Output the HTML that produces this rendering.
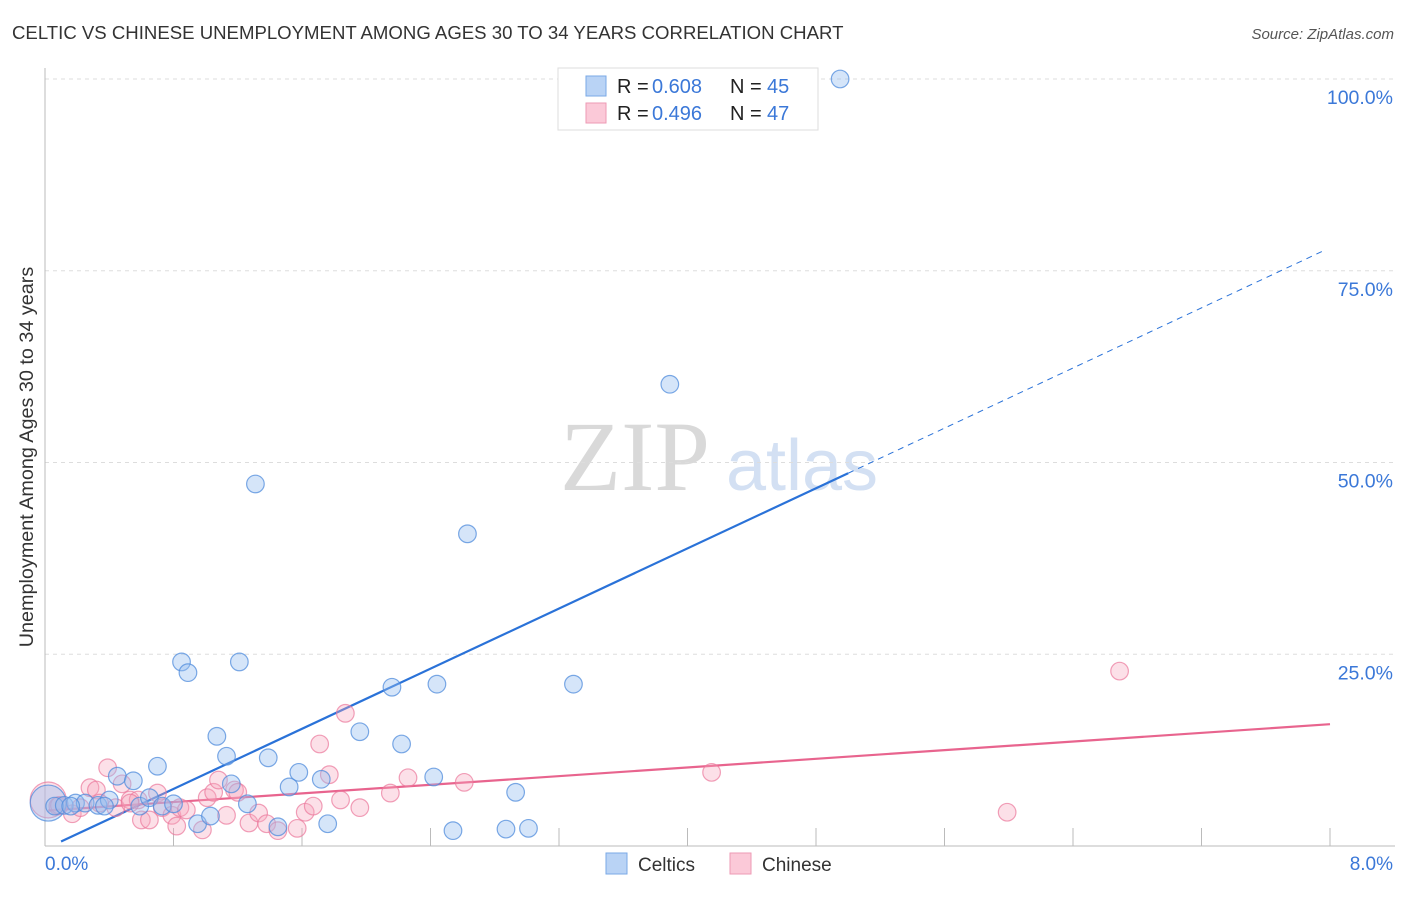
<!DOCTYPE html>
<html><head><meta charset="utf-8"><style>
body{margin:0;background:#fff;font-family:"Liberation Sans",sans-serif}
svg text{font-family:"Liberation Sans",sans-serif}
</style></head><body>
<svg id="chart" width="1406" height="892" viewBox="0 0 1406 892" xmlns="http://www.w3.org/2000/svg">
<text x="12" y="39" font-size="18.6" fill="#333">CELTIC VS CHINESE UNEMPLOYMENT AMONG AGES 30 TO 34 YEARS CORRELATION CHART</text>
<text x="1394" y="39" font-size="15" fill="#555" font-style="italic" text-anchor="end">Source: ZipAtlas.com</text>
<text x="33" y="457" font-size="19.8" fill="#333" text-anchor="middle" transform="rotate(-90 33 457)">Unemployment Among Ages 30 to 34 years</text>
<g>
<text x="635" y="490" font-size="100" fill="#d9d9d9" style="font-family:'Liberation Serif',serif" text-anchor="middle">ZIP</text>
<text x="802" y="490" font-size="72" fill="#d3e0f3" text-anchor="middle">atlas</text>
</g>
<g id="grid"></g><g id="axes"></g><g id="lines"></g><g id="pts"></g>
<g>
<rect x="558" y="68" width="260" height="62" fill="#fff" stroke="#ddd"/>
<rect x="586" y="76" width="20" height="20" fill="#b9d3f5" stroke="#7aa8e6"/>
<text x="617" y="93" font-size="20" fill="#222">R =</text>
<text x="652" y="93" font-size="20" fill="#3b78d8">0.608</text>
<text x="730" y="93" font-size="20" fill="#222">N =</text>
<text x="767" y="93" font-size="20" fill="#3b78d8">45</text>
<rect x="586" y="103" width="20" height="20" fill="#fbc9d8" stroke="#ee9ab4"/>
<text x="617" y="120" font-size="20" fill="#222">R =</text>
<text x="652" y="120" font-size="20" fill="#3b78d8">0.496</text>
<text x="730" y="120" font-size="20" fill="#222">N =</text>
<text x="767" y="120" font-size="20" fill="#3b78d8">47</text>
</g>
<g>
<rect x="606" y="853" width="21" height="21" fill="#b9d3f5" stroke="#7aa8e6"/>
<text x="638" y="871" font-size="19" fill="#333">Celtics</text>
<rect x="730" y="853" width="21" height="21" fill="#fbc9d8" stroke="#ee9ab4"/>
<text x="762" y="871" font-size="19" fill="#333">Chinese</text>
</g>
</svg>
<script>
const yTicks=[25,50,75,100];
const yTickLabels=["25.0%","50.0%","75.0%","100.0%"];
const xTicks=[0.8,1.6,2.4,3.2,4.0,4.8,5.6,6.4,7.2,8.0];
const celticsX=[0.02,0.06,0.12,0.19,0.25,0.33,0.40,0.45,0.55,0.59,0.65,0.70,0.73,0.80,0.85,0.89,0.95,1.03,1.07,1.13,1.16,1.21,1.26,1.31,1.39,1.45,1.52,1.58,1.72,1.76,1.96,2.16,2.22,2.42,2.44,2.54,2.63,2.87,2.93,3.01,3.29,3.89,4.95,0.16,0.37];
const celticsY=[5.6,5.2,5.3,5.6,5.6,5.3,6.0,9.1,8.5,5.2,6.3,10.4,5.2,5.5,24.0,22.6,2.9,3.9,14.3,11.7,8.1,24.0,5.5,47.2,11.5,2.5,7.7,9.6,8.7,2.9,14.9,20.7,13.3,9.0,21.1,2.0,40.7,2.2,7.0,2.3,21.1,60.2,100,5.2,5.2];
const chineseX=[0.02,0.08,0.17,0.22,0.28,0.32,0.39,0.44,0.48,0.53,0.58,0.60,0.65,0.70,0.73,0.79,0.82,0.84,0.88,0.98,1.01,1.05,1.08,1.13,1.18,1.20,1.27,1.33,1.38,1.45,1.57,1.62,1.67,1.71,1.77,1.84,1.87,1.96,2.15,2.26,2.61,4.15,5.99,6.69,0.09,0.34,0.53];
const chineseY=[6.0,5.2,4.2,5.0,7.6,7.3,10.2,5.0,8.1,6.0,6.0,3.4,3.4,6.9,5.0,4.0,2.6,5.0,4.7,2.1,6.3,7.0,8.6,4.0,7.3,7.0,3.0,4.3,2.9,2.0,2.3,4.4,5.2,13.3,9.3,6.0,17.3,5.0,6.9,8.9,8.3,9.6,4.4,22.8,5.3,5.6,5.6];
const celticsFit=[-0.4,9.8];
const chineseFit=[4.6,1.41];
const NS="http://www.w3.org/2000/svg";
const sx=v=>45+v/8*1285, sy=v=>846-v/100*767;
function mk(tag,attrs,parent){const e=document.createElementNS(NS,tag);for(const k in attrs)e.setAttribute(k,attrs[k]);document.getElementById(parent).appendChild(e);return e;}
yTicks.forEach((t,i)=>{
 const l=mk('line',{x1:45,x2:1395,y1:sy(t),y2:sy(t),stroke:'#ddd','stroke-dasharray':'4,4'},'grid');
 
 
 const tx=mk('text',{x:1393,y:sy(t)+25,'font-size':19.5,fill:'#3b78d8','text-anchor':'end'},'grid');
 tx.textContent=yTickLabels[i];
 
 
});
const ax=mk('line',{x1:45,x2:45,y1:68,y2:846,stroke:'#bbb'},'axes');


const bx=mk('line',{x1:45,x2:1395,y1:846,y2:846,stroke:'#bbb'},'axes');


xTicks.forEach(t=>{
 const l=mk('line',{x1:sx(t),x2:sx(t),y1:828,y2:846,stroke:'#bbb'},'axes');
 
 
});
const x0=mk('text',{x:45,y:870,'font-size':19,fill:'#3b78d8'},'axes');x0.textContent='0.0%';


const x1=mk('text',{x:1393,y:870,'font-size':19,fill:'#3b78d8','text-anchor':'end'},'axes');x1.textContent='8.0%';


function pts(xs,ys,fill,stroke,name){
 xs.forEach((x,i)=>{
  const big=(i===0);
  const c=mk('circle',{cx:sx(x),cy:sy(ys[i]),r:big?18:8.8,fill:fill,stroke:stroke,'stroke-width':1.2},'pts');
  
  
 });
}
pts(chineseX,chineseY,'rgba(245,165,190,0.35)','rgba(235,120,155,0.7)','chinese-point');
pts(celticsX,celticsY,'rgba(150,190,240,0.4)','rgba(80,140,220,0.75)','celtics-point');
const fb=v=>celticsFit[0]+celticsFit[1]*v, fp=v=>chineseFit[0]+chineseFit[1]*v;
const b1=mk('line',{x1:sx(0.1),y1:sy(fb(0.1)),x2:sx(5),y2:sy(fb(5)),stroke:'#2a72d8','stroke-width':2.2},'lines');


const b2=mk('line',{x1:sx(5),y1:sy(fb(5)),x2:sx(7.97),y2:sy(fb(7.97)),stroke:'#2a72d8','stroke-width':1,'stroke-dasharray':'6,5'},'lines');


const p1=mk('line',{x1:sx(0.02),y1:sy(fp(0.02)),x2:sx(8),y2:sy(fp(8)),stroke:'#e8648e','stroke-width':2.2},'lines');


</script>
</body></html>
